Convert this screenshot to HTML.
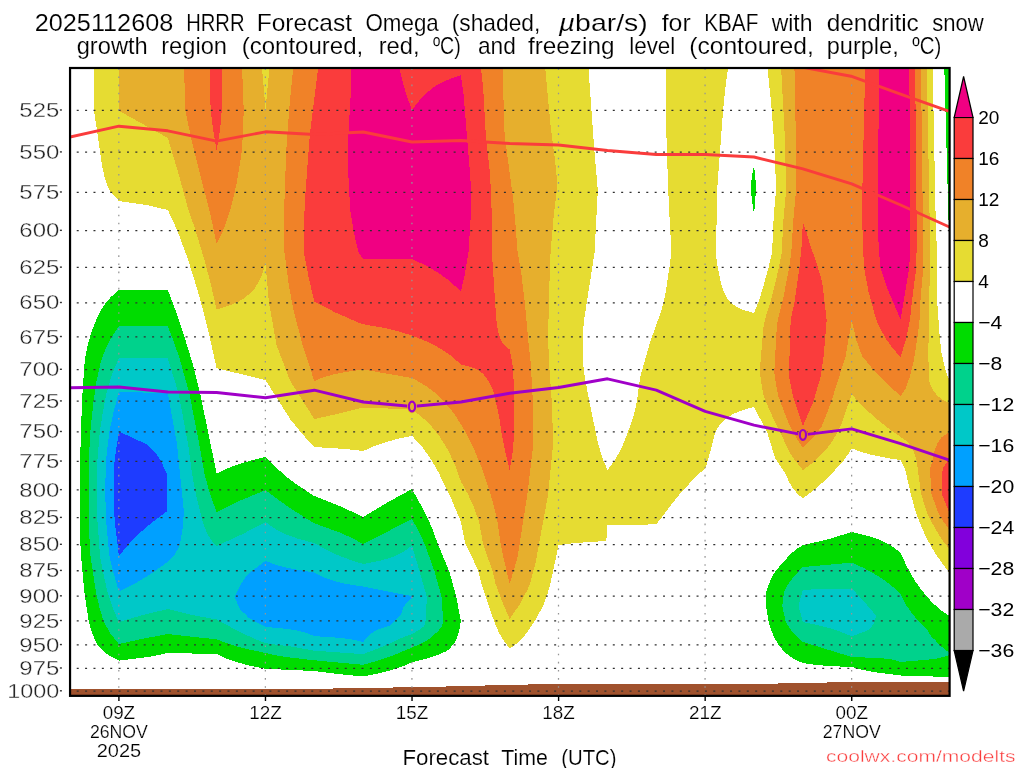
<!DOCTYPE html><html><head><meta charset="utf-8"><style>html,body{margin:0;padding:0;background:#fff}body{width:1024px;height:768px;overflow:hidden;position:relative;font-family:"Liberation Sans",sans-serif}</style></head><body><svg width="1024" height="768" viewBox="0 0 1024 768" style="position:absolute;left:0;top:0">
<defs><clipPath id="cp"><rect x="70.05" y="68" width="879.55" height="627.85"/></clipPath></defs>
<rect width="1024" height="768" fill="#fff"/>
<g clip-path="url(#cp)" shape-rendering="crispEdges">
<path fill="#e6dc32" fill-rule="evenodd" d="M94.1 60.0L587.9 60.0L594.3 150.0L597.8 190.0L594.6 252.0L583.8 322.0L582.6 340.0L583.6 370.0L589.4 402.0L598.2 444.0L602.3 458.0L607.5 470.0L615.0 460.0L621.1 449.0L626.9 435.0L633.9 415.0L636.8 402.0L640.2 377.0L649.8 343.0L660.5 313.0L664.0 301.0L666.1 290.0L669.9 264.0L671.5 252.0L668.9 206.0L666.8 150.0L666.2 125.0L665.9 60.0L728.6 60.0L728.6 64.0L725.6 86.0L723.1 110.0L718.0 178.0L717.2 190.0L716.9 215.0L715.5 252.0L717.6 267.0L720.7 282.0L723.1 290.0L726.3 297.0L730.0 302.0L736.8 307.0L743.6 310.0L754.0 313.0L758.5 302.0L762.3 290.0L768.7 267.0L772.1 252.0L773.8 215.0L776.1 190.0L774.6 150.0L773.4 132.0L771.0 102.0L767.0 64.0L767.0 60.0L932.5 60.0L935.7 220.0L937.5 267.0L937.2 302.0L939.5 334.0L941.3 352.0L944.9 368.0L949.4 381.0L949.4 572.7L941.9 563.0L935.1 553.0L927.5 540.0L921.9 528.0L916.4 514.0L914.5 508.0L910.8 494.0L905.0 469.0L900.6 460.0L887.1 458.0L872.1 455.0L861.2 452.0L851.7 448.4L847.6 455.0L842.4 462.0L829.5 476.0L816.6 488.0L802.9 498.5L797.7 494.0L792.7 488.0L789.1 482.0L785.6 474.0L775.1 458.0L767.1 432.0L754.0 407.0L742.8 410.0L733.1 414.0L726.7 418.0L720.2 424.0L715.3 432.0L710.5 451.0L705.2 469.0L698.1 474.0L692.0 480.0L688.2 485.0L677.2 497.0L656.3 524.4L607.5 525.0L607.0 536.0L605.9 541.0L575.6 543.0L558.6 545.0L550.3 584.0L547.1 595.0L543.9 604.0L536.1 619.0L525.1 635.0L518.6 642.0L509.7 648.6L502.5 639.0L499.1 633.0L496.0 626.0L490.4 611.0L482.4 587.0L478.2 571.0L471.1 555.0L465.3 544.0L460.7 521.0L449.6 495.0L438.3 472.0L431.5 460.0L422.2 447.0L412.0 435.8L397.0 439.0L386.1 442.0L374.4 446.0L363.2 451.0L345.6 449.0L314.3 447.0L302.2 434.0L290.1 419.0L265.5 380.0L216.6 368.2L207.9 329.0L200.3 300.0L193.0 275.0L186.7 256.0L179.4 236.0L174.0 223.0L167.8 210.0L146.5 205.0L118.9 201.0L110.0 191.0L107.1 185.0L104.5 177.0L102.3 167.0L94.1 111.0Z"/>
<path fill="#e6af2d" fill-rule="evenodd" d="M119.2 60.0L261.7 60.0L261.7 64.0L265.5 108.9L269.9 64.0L269.9 60.0L544.8 60.0L545.3 69.0L550.6 126.0L555.1 161.0L557.5 185.0L553.7 216.0L550.6 252.0L549.2 290.0L548.2 333.0L548.1 340.0L549.5 370.0L552.0 405.0L553.1 444.0L548.2 494.0L535.7 562.0L530.0 584.0L527.8 589.0L520.6 603.0L509.7 619.0L503.6 605.0L495.6 584.0L492.5 571.0L483.0 544.0L479.2 522.0L473.8 507.0L467.9 494.0L460.9 481.4L455.0 465.0L448.0 450.0L439.3 436.0L430.3 425.0L421.9 417.0L412.0 409.5L363.2 407.5L337.2 414.0L314.3 419.0L290.2 381.0L276.5 345.0L268.9 302.0L265.5 263.1L262.6 273.0L259.2 281.0L255.0 288.0L250.6 293.0L244.4 298.0L237.7 302.0L228.0 306.0L216.6 309.5L210.8 284.0L204.7 261.0L194.8 228.0L188.4 210.0L178.3 173.0L167.8 138.0L119.3 111.0ZM780.7 60.0L926.7 60.0L930.5 267.0L928.7 302.0L929.0 320.0L928.3 352.0L928.9 381.0L932.3 389.0L936.6 395.0L941.4 399.0L949.4 403.0L949.4 549.0L943.8 542.0L938.5 534.0L932.7 524.0L927.2 513.0L921.1 494.0L916.4 459.0L913.9 452.0L911.3 447.0L908.2 443.0L905.1 440.0L887.9 428.0L873.2 416.0L862.5 406.0L851.7 394.5L840.7 426.0L833.1 440.0L827.4 448.0L820.0 456.0L812.2 463.0L802.9 470.0L793.1 458.0L788.9 451.0L780.1 432.0L776.8 426.0L768.2 407.0L763.3 395.0L759.7 372.0L763.4 327.0L766.7 313.0L770.5 302.0L773.4 291.0L779.0 267.0L781.8 252.0L783.2 222.0L786.1 190.0L785.0 140.0Z"/>
<path fill="#f08228" fill-rule="evenodd" d="M183.7 60.0L241.8 60.0L243.7 110.0L243.1 130.0L241.9 150.0L241.1 156.0L236.5 184.0L230.9 208.0L224.9 226.0L221.0 235.0L216.6 243.7L211.4 219.0L191.1 138.0L185.5 111.0ZM293.6 60.0L502.3 60.0L504.6 135.0L512.9 197.0L515.4 223.0L517.6 252.0L521.6 276.0L525.0 304.0L528.2 340.0L530.9 365.0L533.3 410.0L533.3 444.0L527.4 494.0L517.4 558.0L509.7 584.0L503.5 558.0L500.7 544.0L497.3 521.0L494.9 510.0L490.5 494.0L482.6 470.0L473.2 447.0L466.2 433.0L454.5 414.0L443.8 401.0L436.5 394.0L428.8 388.0L421.2 383.0L412.0 378.0L363.2 369.5L345.2 372.0L335.2 374.0L324.2 377.0L314.3 381.0L302.5 345.0L293.5 310.0L289.1 287.0L284.4 252.0L284.1 210.0L286.3 150.0L289.2 109.0L293.6 64.0ZM794.3 60.0L920.9 60.0L923.4 267.0L920.3 302.0L919.5 320.0L918.0 334.0L913.9 360.0L910.1 376.0L905.8 388.0L903.5 392.0L900.6 395.8L890.4 387.0L880.1 377.0L871.0 367.0L862.1 356.0L856.3 340.0L851.7 320.7L845.7 356.0L831.2 402.0L827.8 411.0L821.3 427.0L812.8 438.0L802.9 448.0L797.1 439.0L789.8 426.0L780.4 402.0L778.0 395.0L774.8 377.0L774.3 372.0L776.8 327.0L777.8 320.0L783.7 296.0L789.2 267.0L790.7 257.0L791.9 245.0L793.1 222.0L796.1 190.0L796.1 150.0ZM941.8 437.0L949.4 432.0L949.4 530.0L943.8 522.0L938.4 513.0L931.4 494.0L930.0 469.0L932.9 459.0L934.8 450.0L937.5 443.0Z"/>
<path fill="#fa3c3c" fill-rule="evenodd" d="M209.8 60.0L221.8 60.0L221.8 110.0L220.1 130.0L216.6 150.4L213.1 130.0L210.6 110.0ZM318.5 60.0L480.2 60.0L480.2 64.0L481.9 75.0L483.6 95.0L485.8 135.0L489.8 172.0L490.6 185.0L491.6 210.0L491.9 252.0L496.2 319.0L498.0 331.0L500.9 340.0L502.6 343.0L505.0 346.0L509.7 349.4L512.5 365.0L513.6 380.0L514.5 410.0L514.1 435.0L512.7 452.0L509.7 470.3L505.3 452.0L501.9 435.0L499.3 418.0L494.5 395.0L492.0 388.0L489.6 383.0L485.8 377.0L482.2 373.0L478.0 370.0L473.8 368.0L467.7 366.0L460.9 364.5L452.6 357.0L444.3 351.0L434.0 345.0L423.3 340.0L412.0 335.6L397.4 331.0L384.4 328.0L361.9 324.0L336.4 313.0L314.3 301.5L308.6 277.0L303.7 252.0L304.1 220.0L305.2 196.0L309.8 135.0L317.7 71.0ZM865.4 60.0L915.1 60.0L916.7 230.0L916.4 267.0L911.8 302.0L910.0 320.0L905.8 340.0L900.6 357.0L893.3 349.0L886.8 340.0L881.0 330.0L876.3 320.0L868.6 292.0L863.9 267.0L862.5 230.0L862.1 200.0ZM801.7 245.0L802.9 222.0L806.7 233.0L810.1 245.0L815.3 259.0L822.2 282.0L826.7 320.0L823.7 356.0L820.6 377.0L813.2 402.0L802.9 426.3L794.7 402.0L792.8 395.0L789.2 377.0L789.0 372.0L790.7 320.0L794.5 302.0L799.5 267.0ZM945.5 464.0L949.4 459.0L949.4 512.7L941.7 494.0L942.6 469.0Z"/>
<path fill="#f00082" fill-rule="evenodd" d="M351.6 60.0L398.3 60.0L398.3 64.0L402.9 83.0L407.2 97.0L412.0 110.0L418.1 102.0L424.0 95.0L432.6 88.0L438.8 84.0L444.7 81.0L460.9 75.0L463.6 95.0L469.9 172.0L470.8 185.0L471.1 210.0L468.5 252.0L464.9 274.0L460.9 291.4L449.6 281.0L438.7 273.0L426.8 266.0L412.0 259.0L363.2 259.0L358.3 252.0L354.0 233.0L350.2 210.0L348.2 172.0L347.5 150.0L350.5 98.0ZM879.5 60.0L909.3 60.0L910.3 230.0L909.4 267.0L900.6 319.4L887.1 288.0L880.2 267.0L877.7 230.0L877.5 200.0Z"/>
<path fill="#00dc00" fill-rule="evenodd" d="M944.1 60.0L949.4 60.0L949.4 240.0L948.5 220.0ZM754.0 165.0L755.4 178.0L756.0 190.0L754.0 215.0L750.7 190.0L751.7 178.0ZM118.9 290.0L167.8 290.0L174.3 307.0L183.6 334.0L191.9 361.0L200.1 393.0L216.6 473.4L228.3 468.0L239.2 464.0L252.8 460.0L265.5 457.0L275.4 467.0L286.8 477.0L298.8 486.0L311.0 494.0L314.3 496.0L342.1 507.0L363.2 517.0L386.4 503.0L412.0 489.0L423.0 509.0L431.7 527.0L437.8 544.0L449.5 572.0L456.3 597.0L460.8 621.0L459.3 630.0L457.0 638.0L453.7 644.0L449.3 649.0L446.9 651.0L437.4 655.0L425.1 659.0L412.0 662.3L403.5 666.0L395.1 669.0L380.5 673.0L363.2 676.5L338.1 674.0L314.3 671.0L265.5 668.8L251.1 666.0L235.9 662.0L224.9 658.0L216.6 654.0L167.8 653.0L148.6 657.0L118.9 660.6L108.5 655.0L104.5 652.0L100.3 648.0L97.0 644.0L94.6 639.0L91.5 631.0L88.8 622.0L84.3 592.0L81.1 556.0L80.4 544.0L80.2 520.0L80.2 460.0L80.9 431.0L82.5 393.0L84.8 360.0L88.0 344.0L92.1 330.0L97.8 316.0L103.4 306.0L110.8 297.0ZM851.7 532.0L868.5 536.0L880.0 540.0L891.8 546.0L900.6 552.6L905.2 563.0L910.3 573.0L915.1 581.0L920.8 589.0L928.1 598.0L933.8 604.0L940.7 610.0L949.4 616.0L949.4 677.0L900.6 675.5L873.5 672.0L863.2 670.0L851.7 667.0L828.5 666.0L808.2 664.0L802.9 663.0L796.1 660.0L790.9 657.0L784.5 652.0L778.6 645.0L774.0 637.0L770.0 627.0L768.6 622.0L766.1 606.0L765.8 594.0L766.7 590.0L769.7 582.0L773.6 574.0L781.2 564.0L791.9 553.0L796.7 549.0L802.9 545.2L829.3 539.0Z"/>
<path fill="#00d28c" fill-rule="evenodd" d="M111.0 338.0L118.9 326.2L167.8 326.2L173.9 342.0L179.4 358.0L189.3 393.0L199.2 444.0L204.5 474.0L210.0 494.0L216.6 512.0L239.0 501.0L265.5 490.2L288.3 507.0L313.5 523.0L340.9 533.0L351.9 538.0L363.2 544.0L412.0 519.0L418.7 531.0L425.1 545.0L434.7 572.0L441.6 597.0L443.2 621.0L442.2 626.0L438.2 631.0L430.5 638.0L426.0 641.0L420.2 644.0L391.9 656.0L376.9 661.0L363.2 664.8L311.1 660.0L286.1 657.0L274.5 655.0L242.6 648.0L228.9 644.0L216.6 639.4L167.8 634.0L141.5 639.0L118.9 644.0L110.7 634.0L103.9 622.0L99.6 608.0L95.9 592.0L90.5 556.0L89.7 544.0L88.8 520.0L88.6 489.0L88.8 460.0L90.3 432.0L93.4 402.0L96.4 382.0L100.3 364.0L104.3 352.0ZM802.9 567.0L851.7 562.7L861.6 567.0L871.4 572.0L884.2 580.0L894.3 588.0L900.6 594.0L906.1 605.0L912.4 614.0L920.1 623.0L927.3 630.0L930.1 635.0L932.7 638.0L935.3 640.0L938.1 644.0L940.3 646.0L943.5 648.0L946.7 651.0L949.4 652.6L949.4 654.8L943.6 657.0L934.8 659.0L900.6 662.0L895.0 660.0L889.5 659.0L879.2 658.0L851.7 657.0L802.9 642.0L798.1 638.0L791.7 631.0L785.7 622.0L782.3 606.0L783.7 594.0L784.7 590.0L788.9 583.0L795.1 575.0Z"/>
<path fill="#00c8c8" fill-rule="evenodd" d="M113.3 371.0L118.9 358.3L167.8 358.3L178.5 393.0L188.1 444.0L191.7 471.0L194.1 485.0L197.0 499.0L201.7 518.0L204.5 527.0L207.5 534.0L212.0 541.0L216.6 546.0L242.7 534.0L265.5 522.0L273.6 528.0L285.0 534.0L298.7 539.0L314.3 543.0L324.7 549.0L337.5 555.0L350.6 560.0L363.2 564.0L379.1 561.0L392.6 557.0L403.2 552.0L412.0 545.4L426.9 597.0L425.5 621.0L424.3 626.0L419.0 630.0L412.0 634.0L401.4 638.0L389.1 644.0L363.2 654.2L314.3 650.7L294.4 647.0L265.5 643.2L252.8 638.0L239.8 632.0L216.6 619.5L192.3 615.0L167.8 609.0L142.8 615.0L118.9 622.0L112.8 608.0L107.5 592.0L104.0 577.0L100.0 556.0L97.4 520.0L96.9 489.0L97.4 460.0L99.8 432.0L102.5 414.0L106.1 395.0L108.7 385.0ZM802.9 589.7L851.7 588.6L861.9 599.0L873.1 612.0L876.3 616.0L873.4 624.0L871.5 627.0L868.6 630.0L851.7 636.4L841.2 632.0L829.1 628.0L817.5 625.0L802.9 622.0L798.4 606.0Z"/>
<path fill="#00a0ff" fill-rule="evenodd" d="M118.9 392.0L167.8 393.0L177.0 444.0L183.9 512.0L182.4 530.0L180.4 542.0L178.0 549.0L173.7 556.0L170.9 559.0L163.4 565.0L149.2 575.0L134.0 584.0L118.9 591.5L114.1 575.0L109.4 556.0L106.0 520.0L105.2 489.0L106.0 460.0L109.3 432.0L113.8 411.0ZM265.5 561.0L276.4 565.0L287.8 568.0L314.3 572.6L325.0 578.0L337.6 582.0L346.8 584.0L365.8 587.0L412.0 596.2L412.0 598.5L409.4 600.0L406.1 603.0L403.1 608.0L400.9 615.0L392.0 624.0L388.7 626.0L379.2 629.0L373.3 632.0L368.2 636.0L363.2 642.1L355.5 640.0L342.0 638.0L314.3 636.1L306.9 633.0L294.5 630.0L278.7 628.0L265.5 627.0L248.8 618.0L245.3 614.0L240.4 610.0L235.4 599.0L235.3 595.0L242.8 581.0L247.9 574.0Z"/>
<path fill="#1e3cff" fill-rule="evenodd" d="M114.6 460.0L118.9 431.6L120.0 432.0L146.1 444.0L150.9 448.0L154.7 452.0L160.5 460.0L167.3 475.0L167.4 489.0L167.3 511.0L151.3 523.0L139.7 533.0L128.9 544.0L118.9 556.0L114.6 520.0L113.5 489.0Z"/>
<polygon fill="#a0522d" points="68.05,700 70.0,689.0 118.9,689.0 167.8,689.0 216.6,689.0 265.5,689.0 314.3,688.8 363.2,688.0 412.0,687.2 460.9,686.2 509.7,684.8 558.6,684.0 607.5,684.0 656.3,684.0 705.2,684.0 754.0,684.0 802.9,683.0 851.7,682.0 900.6,682.0 949.4,682.0 951.44,700"/>
</g>
<g clip-path="url(#cp)" fill="none">
<line x1="76.72" x2="949.6" y1="110.28" y2="110.28" stroke="#303030" stroke-width="1.3" stroke-dasharray="2 6.376"/>
<line x1="76.72" x2="949.6" y1="152.21" y2="152.21" stroke="#303030" stroke-width="1.3" stroke-dasharray="2 6.376"/>
<line x1="76.72" x2="949.6" y1="192.28" y2="192.28" stroke="#303030" stroke-width="1.3" stroke-dasharray="2 6.376"/>
<line x1="76.72" x2="949.6" y1="230.64" y2="230.64" stroke="#303030" stroke-width="1.3" stroke-dasharray="2 6.376"/>
<line x1="76.72" x2="949.6" y1="267.44" y2="267.44" stroke="#303030" stroke-width="1.3" stroke-dasharray="2 6.376"/>
<line x1="76.72" x2="949.6" y1="302.79" y2="302.79" stroke="#303030" stroke-width="1.3" stroke-dasharray="2 6.376"/>
<line x1="76.72" x2="949.6" y1="336.81" y2="336.81" stroke="#303030" stroke-width="1.3" stroke-dasharray="2 6.376"/>
<line x1="76.72" x2="949.6" y1="369.59" y2="369.59" stroke="#303030" stroke-width="1.3" stroke-dasharray="2 6.376"/>
<line x1="76.72" x2="949.6" y1="401.22" y2="401.22" stroke="#303030" stroke-width="1.3" stroke-dasharray="2 6.376"/>
<line x1="76.72" x2="949.6" y1="431.78" y2="431.78" stroke="#303030" stroke-width="1.3" stroke-dasharray="2 6.376"/>
<line x1="76.72" x2="949.6" y1="461.34" y2="461.34" stroke="#303030" stroke-width="1.3" stroke-dasharray="2 6.376"/>
<line x1="76.72" x2="949.6" y1="489.96" y2="489.96" stroke="#303030" stroke-width="1.3" stroke-dasharray="2 6.376"/>
<line x1="76.72" x2="949.6" y1="517.70" y2="517.70" stroke="#303030" stroke-width="1.3" stroke-dasharray="2 6.376"/>
<line x1="76.72" x2="949.6" y1="544.61" y2="544.61" stroke="#303030" stroke-width="1.3" stroke-dasharray="2 6.376"/>
<line x1="76.72" x2="949.6" y1="570.73" y2="570.73" stroke="#303030" stroke-width="1.3" stroke-dasharray="2 6.376"/>
<line x1="76.72" x2="949.6" y1="596.13" y2="596.13" stroke="#303030" stroke-width="1.3" stroke-dasharray="2 6.376"/>
<line x1="76.72" x2="949.6" y1="620.83" y2="620.83" stroke="#303030" stroke-width="1.3" stroke-dasharray="2 6.376"/>
<line x1="76.72" x2="949.6" y1="644.86" y2="644.86" stroke="#303030" stroke-width="1.3" stroke-dasharray="2 6.376"/>
<line x1="76.72" x2="949.6" y1="668.28" y2="668.28" stroke="#303030" stroke-width="1.3" stroke-dasharray="2 6.376"/>
<line x1="76.72" x2="949.6" y1="691.10" y2="691.10" stroke="#303030" stroke-width="1.3" stroke-dasharray="2 6.376"/>
<line x1="118.81" x2="118.81" y1="695.9" y2="68" stroke="#959595" stroke-width="1.25" stroke-dasharray="1.6 6.53"/>
<line x1="265.37" x2="265.37" y1="695.9" y2="68" stroke="#959595" stroke-width="1.25" stroke-dasharray="1.6 6.53"/>
<line x1="411.93" x2="411.93" y1="695.9" y2="68" stroke="#959595" stroke-width="1.25" stroke-dasharray="1.6 6.53"/>
<line x1="558.50" x2="558.50" y1="695.9" y2="68" stroke="#959595" stroke-width="1.25" stroke-dasharray="1.6 6.53"/>
<line x1="705.06" x2="705.06" y1="695.9" y2="68" stroke="#959595" stroke-width="1.25" stroke-dasharray="1.6 6.53"/>
<line x1="851.63" x2="851.63" y1="695.9" y2="68" stroke="#959595" stroke-width="1.25" stroke-dasharray="1.6 6.53"/>
<polyline points="70.0,137.0 118.9,126.2 167.8,130.8 216.6,141.2 265.5,131.8 314.3,134.5 363.2,132.0 412.0,142.0 460.9,140.5 509.7,143.5 558.6,145.0 607.5,150.5 656.3,154.5 705.2,154.5 754.0,157.0 802.9,168.8 851.7,183.8 900.6,205.0 949.4,227.0" stroke="#fa3c3c" stroke-width="2.9" stroke-linejoin="round"/>
<polyline points="796.0,66.0 851.0,76.2 899.8,93.8 948.6,111.2" stroke="#fa3c3c" stroke-width="2.9" stroke-linejoin="round"/>
<polyline points="70.0,387.8 118.9,387.0 167.8,392.0 216.6,392.5 265.5,397.8 314.3,390.2 363.2,402.0 412.0,406.5 460.9,402.0 509.7,393.2 558.6,387.5 607.5,378.8 656.3,390.2 705.2,411.4 754.0,425.2 802.9,434.9 851.7,428.9 900.6,443.7 949.4,460.2" stroke="#a000c8" stroke-width="2.9" stroke-linejoin="round"/>
</g>
<ellipse cx="412.0" cy="406.5" rx="4.9" ry="6.7" fill="#e6af2d"/>
<ellipse cx="412.0" cy="406.5" rx="3.1" ry="4.9" fill="none" stroke="#a000c8" stroke-width="2.2"/>
<ellipse cx="802.9" cy="434.9" rx="4.9" ry="6.7" fill="#f08228"/>
<ellipse cx="802.9" cy="434.9" rx="3.1" ry="4.9" fill="none" stroke="#a000c8" stroke-width="2.2"/>
<rect x="70.05" y="68" width="879.55" height="627.85" fill="none" stroke="#000" stroke-width="2.2"/>
<line x1="118.91" x2="118.91" y1="696" y2="701" stroke="#000" stroke-width="1.4"/>
<line x1="265.47" x2="265.47" y1="696" y2="701" stroke="#000" stroke-width="1.4"/>
<line x1="412.03" x2="412.03" y1="696" y2="701" stroke="#000" stroke-width="1.4"/>
<line x1="558.60" x2="558.60" y1="696" y2="701" stroke="#000" stroke-width="1.4"/>
<line x1="705.16" x2="705.16" y1="696" y2="701" stroke="#000" stroke-width="1.4"/>
<line x1="851.73" x2="851.73" y1="696" y2="701" stroke="#000" stroke-width="1.4"/>
<line x1="59.9" x2="61.9" y1="109.98" y2="109.98" stroke="#333" stroke-width="1.4"/>
<line x1="59.9" x2="61.9" y1="151.91" y2="151.91" stroke="#333" stroke-width="1.4"/>
<line x1="59.9" x2="61.9" y1="191.98" y2="191.98" stroke="#333" stroke-width="1.4"/>
<line x1="59.9" x2="61.9" y1="230.34" y2="230.34" stroke="#333" stroke-width="1.4"/>
<line x1="59.9" x2="61.9" y1="267.14" y2="267.14" stroke="#333" stroke-width="1.4"/>
<line x1="59.9" x2="61.9" y1="302.49" y2="302.49" stroke="#333" stroke-width="1.4"/>
<line x1="59.9" x2="61.9" y1="336.51" y2="336.51" stroke="#333" stroke-width="1.4"/>
<line x1="59.9" x2="61.9" y1="369.29" y2="369.29" stroke="#333" stroke-width="1.4"/>
<line x1="59.9" x2="61.9" y1="400.92" y2="400.92" stroke="#333" stroke-width="1.4"/>
<line x1="59.9" x2="61.9" y1="431.48" y2="431.48" stroke="#333" stroke-width="1.4"/>
<line x1="59.9" x2="61.9" y1="461.04" y2="461.04" stroke="#333" stroke-width="1.4"/>
<line x1="59.9" x2="61.9" y1="489.66" y2="489.66" stroke="#333" stroke-width="1.4"/>
<line x1="59.9" x2="61.9" y1="517.40" y2="517.40" stroke="#333" stroke-width="1.4"/>
<line x1="59.9" x2="61.9" y1="544.31" y2="544.31" stroke="#333" stroke-width="1.4"/>
<line x1="59.9" x2="61.9" y1="570.43" y2="570.43" stroke="#333" stroke-width="1.4"/>
<line x1="59.9" x2="61.9" y1="595.83" y2="595.83" stroke="#333" stroke-width="1.4"/>
<line x1="59.9" x2="61.9" y1="620.53" y2="620.53" stroke="#333" stroke-width="1.4"/>
<line x1="59.9" x2="61.9" y1="644.56" y2="644.56" stroke="#333" stroke-width="1.4"/>
<line x1="59.9" x2="61.9" y1="667.98" y2="667.98" stroke="#333" stroke-width="1.4"/>
<line x1="59.9" x2="61.9" y1="690.80" y2="690.80" stroke="#333" stroke-width="1.4"/>
<filter id="idf" x="0" y="0" width="1024" height="768" filterUnits="userSpaceOnUse" color-interpolation-filters="sRGB"><feOffset dx="0" dy="0"/></filter>
<g font-family="'Liberation Sans', sans-serif" filter="url(#idf)">
<text x="59.3" y="116.977" font-size="20.4" text-anchor="end" fill="#222" textLength="40" lengthAdjust="spacingAndGlyphs" stroke="#fff" stroke-width="0.35">525</text>
<text x="59.3" y="158.91" font-size="20.4" text-anchor="end" fill="#222" textLength="40" lengthAdjust="spacingAndGlyphs" stroke="#fff" stroke-width="0.35">550</text>
<text x="59.3" y="198.979" font-size="20.4" text-anchor="end" fill="#222" textLength="40" lengthAdjust="spacingAndGlyphs" stroke="#fff" stroke-width="0.35">575</text>
<text x="59.3" y="237.342" font-size="20.4" text-anchor="end" fill="#222" textLength="40" lengthAdjust="spacingAndGlyphs" stroke="#fff" stroke-width="0.35">600</text>
<text x="59.3" y="274.139" font-size="20.4" text-anchor="end" fill="#222" textLength="40" lengthAdjust="spacingAndGlyphs" stroke="#fff" stroke-width="0.35">625</text>
<text x="59.3" y="309.492" font-size="20.4" text-anchor="end" fill="#222" textLength="40" lengthAdjust="spacingAndGlyphs" stroke="#fff" stroke-width="0.35">650</text>
<text x="59.3" y="343.511" font-size="20.4" text-anchor="end" fill="#222" textLength="40" lengthAdjust="spacingAndGlyphs" stroke="#fff" stroke-width="0.35">675</text>
<text x="59.3" y="376.293" font-size="20.4" text-anchor="end" fill="#222" textLength="40" lengthAdjust="spacingAndGlyphs" stroke="#fff" stroke-width="0.35">700</text>
<text x="59.3" y="407.925" font-size="20.4" text-anchor="end" fill="#222" textLength="40" lengthAdjust="spacingAndGlyphs" stroke="#fff" stroke-width="0.35">725</text>
<text x="59.3" y="438.483" font-size="20.4" text-anchor="end" fill="#222" textLength="40" lengthAdjust="spacingAndGlyphs" stroke="#fff" stroke-width="0.35">750</text>
<text x="59.3" y="468.04" font-size="20.4" text-anchor="end" fill="#222" textLength="40" lengthAdjust="spacingAndGlyphs" stroke="#fff" stroke-width="0.35">775</text>
<text x="59.3" y="496.658" font-size="20.4" text-anchor="end" fill="#222" textLength="40" lengthAdjust="spacingAndGlyphs" stroke="#fff" stroke-width="0.35">800</text>
<text x="59.3" y="524.396" font-size="20.4" text-anchor="end" fill="#222" textLength="40" lengthAdjust="spacingAndGlyphs" stroke="#fff" stroke-width="0.35">825</text>
<text x="59.3" y="551.305" font-size="20.4" text-anchor="end" fill="#222" textLength="40" lengthAdjust="spacingAndGlyphs" stroke="#fff" stroke-width="0.35">850</text>
<text x="59.3" y="577.435" font-size="20.4" text-anchor="end" fill="#222" textLength="40" lengthAdjust="spacingAndGlyphs" stroke="#fff" stroke-width="0.35">875</text>
<text x="59.3" y="602.828" font-size="20.4" text-anchor="end" fill="#222" textLength="40" lengthAdjust="spacingAndGlyphs" stroke="#fff" stroke-width="0.35">900</text>
<text x="59.3" y="627.525" font-size="20.4" text-anchor="end" fill="#222" textLength="40" lengthAdjust="spacingAndGlyphs" stroke="#fff" stroke-width="0.35">925</text>
<text x="59.3" y="651.564" font-size="20.4" text-anchor="end" fill="#222" textLength="40" lengthAdjust="spacingAndGlyphs" stroke="#fff" stroke-width="0.35">950</text>
<text x="59.3" y="674.979" font-size="20.4" text-anchor="end" fill="#222" textLength="40" lengthAdjust="spacingAndGlyphs" stroke="#fff" stroke-width="0.35">975</text>
<text x="59.3" y="697.8" font-size="20.4" text-anchor="end" fill="#222" textLength="52" lengthAdjust="spacingAndGlyphs" stroke="#fff" stroke-width="0.35">1000</text>
<text x="118.905" y="718.8" font-size="19.2" text-anchor="middle" fill="#000" textLength="32.5" lengthAdjust="spacingAndGlyphs" stroke="#fff" stroke-width="0.2">09Z</text>
<text x="265.47" y="718.8" font-size="19.2" text-anchor="middle" fill="#000" textLength="32.5" lengthAdjust="spacingAndGlyphs" stroke="#fff" stroke-width="0.2">12Z</text>
<text x="412.035" y="718.8" font-size="19.2" text-anchor="middle" fill="#000" textLength="32.5" lengthAdjust="spacingAndGlyphs" stroke="#fff" stroke-width="0.2">15Z</text>
<text x="558.6" y="718.8" font-size="19.2" text-anchor="middle" fill="#000" textLength="32.5" lengthAdjust="spacingAndGlyphs" stroke="#fff" stroke-width="0.2">18Z</text>
<text x="705.165" y="718.8" font-size="19.2" text-anchor="middle" fill="#000" textLength="32.5" lengthAdjust="spacingAndGlyphs" stroke="#fff" stroke-width="0.2">21Z</text>
<text x="851.73" y="718.8" font-size="19.2" text-anchor="middle" fill="#000" textLength="32.5" lengthAdjust="spacingAndGlyphs" stroke="#fff" stroke-width="0.2">00Z</text>
<text x="118.905" y="738" font-size="19.2" text-anchor="middle" fill="#000" textLength="58" lengthAdjust="spacingAndGlyphs" stroke="#fff" stroke-width="0.2">26NOV</text>
<text x="118.905" y="757.3" font-size="19.2" text-anchor="middle" fill="#000" textLength="44.5" lengthAdjust="spacingAndGlyphs" stroke="#fff" stroke-width="0.2">2025</text>
<text x="851.73" y="738" font-size="19.2" text-anchor="middle" fill="#000" textLength="58" lengthAdjust="spacingAndGlyphs" stroke="#fff" stroke-width="0.2">27NOV</text>
<text x="402.45" y="765.3" font-size="22.6" text-anchor="start" fill="#000" textLength="86.6" lengthAdjust="spacingAndGlyphs" stroke="#fff" stroke-width="0.15">Forecast</text>
<text x="501.2" y="765.3" font-size="22.6" text-anchor="start" fill="#000" textLength="46.6" lengthAdjust="spacingAndGlyphs" stroke="#fff" stroke-width="0.15">Time</text>
<text x="561.2" y="765.3" font-size="22.6" text-anchor="start" fill="#000" textLength="55.35" lengthAdjust="spacingAndGlyphs" stroke="#fff" stroke-width="0.15">(UTC)</text>
<text x="826" y="761.5" font-size="15.8" text-anchor="start" fill="#fa3c3c" textLength="189.5" lengthAdjust="spacingAndGlyphs" stroke="#fff" stroke-width="0.35">coolwx.com/modelts</text>
<text x="34.7" y="30.9" font-size="23.6" text-anchor="start" fill="#000" textLength="138.6" lengthAdjust="spacingAndGlyphs" stroke="#fff" stroke-width="0.15">2025112608</text>
<text x="186.2" y="30.9" font-size="23.6" text-anchor="start" fill="#000" textLength="58.35" lengthAdjust="spacingAndGlyphs" stroke="#fff" stroke-width="0.15">HRRR</text>
<text x="256.7" y="30.9" font-size="23.6" text-anchor="start" fill="#000" textLength="95.35" lengthAdjust="spacingAndGlyphs" stroke="#fff" stroke-width="0.15">Forecast</text>
<text x="365.45" y="30.9" font-size="23.6" text-anchor="start" fill="#000" textLength="73.35" lengthAdjust="spacingAndGlyphs" stroke="#fff" stroke-width="0.15">Omega</text>
<text x="451.7" y="30.9" font-size="23.6" text-anchor="start" fill="#000" textLength="88.6" lengthAdjust="spacingAndGlyphs" stroke="#fff" stroke-width="0.15">(shaded,</text>
<text x="558.7" y="30.9" font-size="23.6" text-anchor="start" fill="#000" textLength="89.1" lengthAdjust="spacingAndGlyphs" stroke="#fff" stroke-width="0.15"><tspan font-style="italic">µ</tspan>bar/s)</text>
<text x="661.7" y="30.9" font-size="23.6" text-anchor="start" fill="#000" textLength="29.1" lengthAdjust="spacingAndGlyphs" stroke="#fff" stroke-width="0.15">for</text>
<text x="704.2" y="30.9" font-size="23.6" text-anchor="start" fill="#000" textLength="54.1" lengthAdjust="spacingAndGlyphs" stroke="#fff" stroke-width="0.15">KBAF</text>
<text x="771.7" y="30.9" font-size="23.6" text-anchor="start" fill="#000" textLength="40.85" lengthAdjust="spacingAndGlyphs" stroke="#fff" stroke-width="0.15">with</text>
<text x="826.7" y="30.9" font-size="23.6" text-anchor="start" fill="#000" textLength="92.1" lengthAdjust="spacingAndGlyphs" stroke="#fff" stroke-width="0.15">dendritic</text>
<text x="932.2" y="30.9" font-size="23.6" text-anchor="start" fill="#000" textLength="51.6" lengthAdjust="spacingAndGlyphs" stroke="#fff" stroke-width="0.15">snow</text>
<text x="76.7" y="53.6" font-size="23.6" text-anchor="start" fill="#000" textLength="71.1" lengthAdjust="spacingAndGlyphs" stroke="#fff" stroke-width="0.15">growth</text>
<text x="161.2" y="53.6" font-size="23.6" text-anchor="start" fill="#000" textLength="65.85" lengthAdjust="spacingAndGlyphs" stroke="#fff" stroke-width="0.15">region</text>
<text x="241.7" y="53.6" font-size="23.6" text-anchor="start" fill="#000" textLength="121.6" lengthAdjust="spacingAndGlyphs" stroke="#fff" stroke-width="0.15">(contoured,</text>
<text x="378.7" y="53.6" font-size="23.6" text-anchor="start" fill="#000" textLength="40.85" lengthAdjust="spacingAndGlyphs" stroke="#fff" stroke-width="0.15">red,</text>
<text x="432.95" y="53.6" font-size="23.6" text-anchor="start" fill="#000" textLength="27.85" lengthAdjust="spacingAndGlyphs" stroke="#fff" stroke-width="0.15">ºC)</text>
<text x="477.95" y="53.6" font-size="23.6" text-anchor="start" fill="#000" textLength="37.85" lengthAdjust="spacingAndGlyphs" stroke="#fff" stroke-width="0.15">and</text>
<text x="527.95" y="53.6" font-size="23.6" text-anchor="start" fill="#000" textLength="86.6" lengthAdjust="spacingAndGlyphs" stroke="#fff" stroke-width="0.15">freezing</text>
<text x="629.2" y="53.6" font-size="23.6" text-anchor="start" fill="#000" textLength="46.1" lengthAdjust="spacingAndGlyphs" stroke="#fff" stroke-width="0.15">level</text>
<text x="689.2" y="53.6" font-size="23.6" text-anchor="start" fill="#000" textLength="124.6" lengthAdjust="spacingAndGlyphs" stroke="#fff" stroke-width="0.15">(contoured,</text>
<text x="826.7" y="53.6" font-size="23.6" text-anchor="start" fill="#000" textLength="72.1" lengthAdjust="spacingAndGlyphs" stroke="#fff" stroke-width="0.15">purple,</text>
<text x="912.2" y="53.6" font-size="23.6" text-anchor="start" fill="#000" textLength="29.1" lengthAdjust="spacingAndGlyphs" stroke="#fff" stroke-width="0.15">ºC)</text>
<rect x="954.2" y="117.5" width="18.8" height="41" fill="#fa3c3c" stroke="#000" stroke-width="1.2"/>
<rect x="954.2" y="158.5" width="18.8" height="41" fill="#f08228" stroke="#000" stroke-width="1.2"/>
<rect x="954.2" y="199.5" width="18.8" height="41" fill="#e6af2d" stroke="#000" stroke-width="1.2"/>
<rect x="954.2" y="240.5" width="18.8" height="41" fill="#e6dc32" stroke="#000" stroke-width="1.2"/>
<rect x="954.2" y="281.5" width="18.8" height="41" fill="#ffffff" stroke="#000" stroke-width="1.2"/>
<rect x="954.2" y="322.5" width="18.8" height="41" fill="#00dc00" stroke="#000" stroke-width="1.2"/>
<rect x="954.2" y="363.5" width="18.8" height="41" fill="#00d28c" stroke="#000" stroke-width="1.2"/>
<rect x="954.2" y="404.5" width="18.8" height="41" fill="#00c8c8" stroke="#000" stroke-width="1.2"/>
<rect x="954.2" y="445.5" width="18.8" height="41" fill="#00a0ff" stroke="#000" stroke-width="1.2"/>
<rect x="954.2" y="486.5" width="18.8" height="41" fill="#1e3cff" stroke="#000" stroke-width="1.2"/>
<rect x="954.2" y="527.5" width="18.8" height="41" fill="#8200dc" stroke="#000" stroke-width="1.2"/>
<rect x="954.2" y="568.5" width="18.8" height="41" fill="#a000c8" stroke="#000" stroke-width="1.2"/>
<rect x="954.2" y="609.5" width="18.8" height="41" fill="#aaaaaa" stroke="#000" stroke-width="1.2"/>
<polygon points="954.2,117.5 963.6,76.5 973,117.5" fill="#f00082" stroke="#000" stroke-width="1.2" stroke-linejoin="miter"/>
<polygon points="954.2,650.5 963.6,691 973,650.5" fill="#000" stroke="#000" stroke-width="1.2"/>
<text x="978.2" y="123.9" font-size="19" text-anchor="start" fill="#000">20</text>
<text x="978.2" y="164.9" font-size="19" text-anchor="start" fill="#000">16</text>
<text x="978.2" y="205.9" font-size="19" text-anchor="start" fill="#000">12</text>
<text x="978.2" y="246.9" font-size="19" text-anchor="start" fill="#000">8</text>
<text x="978.2" y="287.9" font-size="19" text-anchor="start" fill="#000">4</text>
<text x="978.2" y="328.9" font-size="19" text-anchor="start" fill="#000" textLength="24" lengthAdjust="spacingAndGlyphs">−4</text>
<text x="978.2" y="369.9" font-size="19" text-anchor="start" fill="#000" textLength="24" lengthAdjust="spacingAndGlyphs">−8</text>
<text x="978.2" y="410.9" font-size="19" text-anchor="start" fill="#000" textLength="36" lengthAdjust="spacingAndGlyphs">−12</text>
<text x="978.2" y="451.9" font-size="19" text-anchor="start" fill="#000" textLength="36" lengthAdjust="spacingAndGlyphs">−16</text>
<text x="978.2" y="492.9" font-size="19" text-anchor="start" fill="#000" textLength="36" lengthAdjust="spacingAndGlyphs">−20</text>
<text x="978.2" y="533.9" font-size="19" text-anchor="start" fill="#000" textLength="36" lengthAdjust="spacingAndGlyphs">−24</text>
<text x="978.2" y="574.9" font-size="19" text-anchor="start" fill="#000" textLength="36" lengthAdjust="spacingAndGlyphs">−28</text>
<text x="978.2" y="615.9" font-size="19" text-anchor="start" fill="#000" textLength="36" lengthAdjust="spacingAndGlyphs">−32</text>
<text x="978.2" y="656.9" font-size="19" text-anchor="start" fill="#000" textLength="36" lengthAdjust="spacingAndGlyphs">−36</text>
</g>
</svg></body></html>
